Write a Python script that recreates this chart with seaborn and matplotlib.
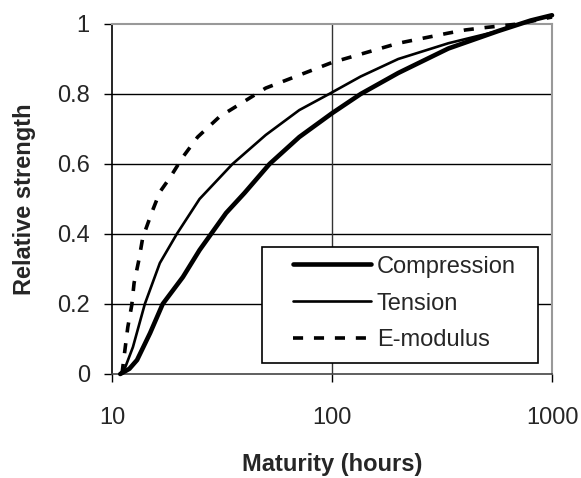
import matplotlib
matplotlib.use("Agg")
import matplotlib.pyplot as plt
import seaborn as sns
import pandas as pd
from matplotlib.ticker import FixedLocator, FixedFormatter, NullLocator
from matplotlib.patches import Rectangle

# ---- data ----
comp_x = [10.9, 12, 13, 14.9, 17, 21, 25, 33, 40, 52, 71, 100, 135, 200, 338, 570, 800, 1000]
comp_y = [0, 0.015, 0.04, 0.117, 0.2, 0.277, 0.354, 0.46, 0.517, 0.6, 0.677, 0.745, 0.8, 0.86, 0.93, 0.98, 1.01, 1.025]

tens_x = [10.9, 11.5, 12.45, 14.1, 16.5, 19.7, 25, 35.3, 50, 71, 97, 135, 200, 338, 570, 800, 1000]
tens_y = [0, 0.02, 0.077, 0.2, 0.317, 0.4, 0.5, 0.6, 0.683, 0.754, 0.8, 0.85, 0.9, 0.945, 0.98, 1.01, 1.025]

emod_x = [11.1, 11.45, 11.8, 12.3, 12.6, 13.25, 13.8, 15.2, 16.5, 18.3, 21, 24.5, 30.8, 50, 100, 200, 338, 404, 500, 700, 1000]
emod_y = [0.0, 0.069, 0.134, 0.197, 0.26, 0.326, 0.39, 0.463, 0.52, 0.56, 0.62, 0.677, 0.735, 0.817, 0.89, 0.945, 0.974, 0.983, 0.99, 1.0, 1.02]

series_names = ["Compression", "Tension", "E-modulus"]
x_ticks = [10, 100, 1000]
x_labels = ["10", "100", "1000"]
y_ticks = [0, 0.2, 0.4, 0.6, 0.8, 1.0]
y_labels = ["0", "0.2", "0.4", "0.6", "0.8", "1"]

sns.set_style("white")
plt.rcParams['font.family'] = ['Liberation Sans', 'DejaVu Sans']

fig = plt.figure(figsize=(5.81, 4.78), dpi=100)
ax = fig.add_axes([112/581, 1 - 374/478, 440/581, 350/478])

styles = [
    dict(lw=3.3, ls='-'),
    dict(lw=1.9, ls='-'),
    dict(lw=2.6, ls=(0, (2.8, 3.0))),
]
for name, xs, ys, st in zip(series_names, [comp_x, tens_x, emod_x], [comp_y, tens_y, emod_y], styles):
    df = pd.DataFrame({"x": xs, "y": ys})
    sns.lineplot(data=df, x="x", y="y", ax=ax, color="black", linewidth=st['lw'],
                 linestyle=st['ls'], label=name, clip_on=False, zorder=3)

ax.set_xscale("log")
ax.set_xlim(10, 1000)
ax.set_ylim(0, 1)
ax.xaxis.set_major_locator(FixedLocator(x_ticks))
ax.xaxis.set_major_formatter(FixedFormatter(x_labels))
ax.xaxis.set_minor_locator(NullLocator())
ax.set_yticks(y_ticks)
ax.set_yticklabels(y_labels)

for y in y_ticks[1:-1]:
    ax.axhline(y, color="black", lw=1.0, zorder=1)
ax.axvline(100, color="#333333", lw=1.0, zorder=1)

for s in ["top", "right"]:
    ax.spines[s].set_color("#999999")
    ax.spines[s].set_linewidth(1.5)
ax.spines["left"].set_color("black")
ax.spines["bottom"].set_color("#444444")
ax.spines["left"].set_linewidth(1.2)
ax.spines["bottom"].set_linewidth(1.2)

ax.tick_params(axis="both", which="major", direction="out", length=6, width=1.0,
               color="black", labelsize=17, bottom=True, left=True)
ax.tick_params(axis="x", pad=18)
ax.tick_params(axis="y", pad=10)

ax.set_xlabel("Maturity (hours)", fontsize=17, fontweight="bold", labelpad=17)
ax.set_ylabel("Relative strength", fontsize=17, fontweight="bold", labelpad=15)

# legend frame (box) and entries
box = Rectangle((0.341, 0.031), 0.627, 0.331, transform=ax.transAxes,
                facecolor="white", edgecolor="black", lw=1.2, zorder=4, clip_on=False)
ax.add_patch(box)
leg = ax.legend(loc="upper left", bbox_to_anchor=(0.411, 0.338),
                fontsize=17, frameon=False,
                handlelength=3.3, handletextpad=0.25, labelspacing=0.63, borderpad=0,
                borderaxespad=0)
leg.set_zorder(5)

fig.savefig("out.png", dpi=100)
